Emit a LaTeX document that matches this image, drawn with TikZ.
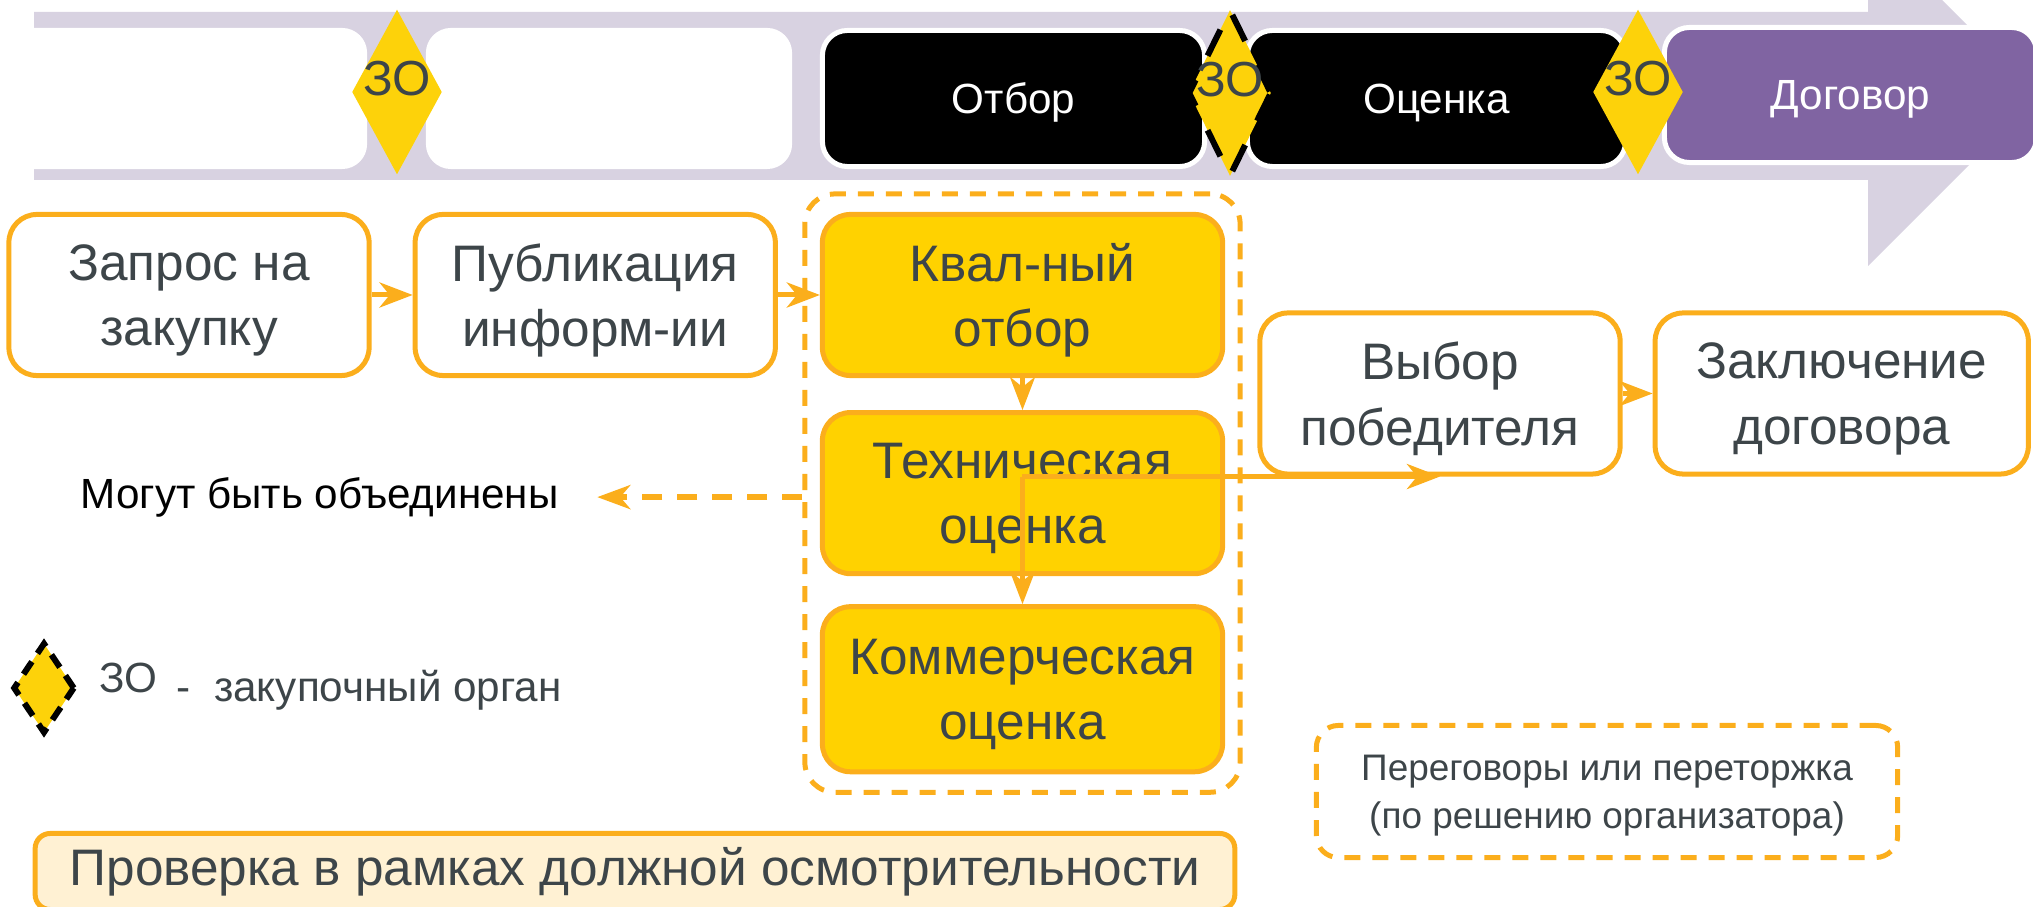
\documentclass[tikz,border=0pt]{standalone}
\usepackage{fontspec}
\setmainfont{Liberation Sans}
\usepackage{xcolor}
\usetikzlibrary{shapes.geometric, arrows.meta, positioning, calc, fit}

\definecolor{bandgray}{HTML}{D8D2E1}
\definecolor{lineorange}{HTML}{FBAE1C}
\definecolor{stepyellow}{HTML}{FFD200}
\definecolor{zoyellow}{HTML}{FDD20A}
\definecolor{textgray}{HTML}{3D4549}
\definecolor{dogpurple}{HTML}{8064A2}
\definecolor{checkcream}{HTML}{FFF1D3}

\tikzset{
  boxfont/.style={font=\fontsize{14.6}{18.6}\selectfont},
  stepbox/.style={draw=lineorange, line width=0.05cm, rounded corners=0.28cm,
    fill=white, text=textgray, align=center, boxfont, inner sep=0pt, text depth=0pt,
    minimum width=3.6cm, minimum height=1.61cm},
  evalbox/.style={stepbox, fill=stepyellow, minimum width=4cm},
  bandstep/.style={rounded corners=0.25cm, inner sep=0pt, minimum height=1.36cm,
    text depth=0pt, font=\fontsize{12}{14}\selectfont},
  darkphase/.style={bandstep, fill=black, draw=white, line width=0.05cm, text=white},
  zoshape/.style={diamond, fill=zoyellow, inner sep=0pt,
    minimum width=0.9cm, minimum height=1.65cm},
  zo/.style={zoshape, label={[zotext]center:ЗО}},
  zotext/.style={text=textgray, inner sep=0pt, yshift=0.13cm, font=\fontsize{14}{16}\selectfont},
  zodash/.style={draw=black, line width=0.06cm, dash pattern=on 0.29cm off 0.27cm, dash phase=0.54cm},
  flow/.style={draw=lineorange, line width=0.05cm,
    -{Stealth[length=0.33cm, width=0.25cm, inset=0.1cm]}},
  dashbox/.style={draw=lineorange, line width=0.05cm, dash pattern=on 0.16cm off 0.12cm},
  note/.style={inner sep=0pt, font=\fontsize{12}{14}\selectfont}
}

\begin{document}
\begin{tikzpicture}[x=0.01cm, y=-0.01cm]
\useasboundingbox (0,0) rectangle (2033,907);
\clip (0,0) rectangle (2033,907);
% Process band arrow
\fill[bandgray] (34,12) -- (1868,12) -- (1868,-74) -- (2038,96) -- (1868,266)
  -- (1868,180) -- (34,180) -- cycle;
% Steps on the band
\node[bandstep, fill=white, minimum width=4.07cm, minimum height=1.41cm] (bandreq) at (163.5,98.5) {};
\node[bandstep, fill=white, minimum width=3.66cm, minimum height=1.41cm] (bandpub) at (609,98.5) {};
\node[darkphase, minimum width=3.82cm] (bandsel) at (1013.5,98.5) {Отбор};
\node[darkphase, minimum width=3.78cm] (bandeval) at (1436.5,98.5) {Оценка};
\node[darkphase, fill=dogpurple, minimum width=3.72cm, minimum height=1.35cm] (bandcontr) at (1850.5,95) {Договор};
% Decision points
\node[zo] (zo1) at (397,92) {};
\node[zo, zodash, minimum width=0.84cm, minimum height=1.68cm] (zo2) at (1230,93) {};
\node[zo] (zo3) at (1638,92) {};

% Procedure steps
\node[stepbox] (req) at (189,295) {Запрос на\\закупку};
\node[stepbox, right=0.41cm of req] (pub) {Публикация\\информ-ии};
\node[evalbox, right=0.42cm of pub] (qual) {Квал-ный\\отбор};
\node[evalbox, below=0.32cm of qual] (tech) {Техническая\\оценка};
\node[evalbox, below=0.28cm of tech, minimum height=1.65cm] (comm) {Коммерческая\\оценка};
\node[stepbox] (win) at (1440,393.5) {Выбор\\победителя};
\node[stepbox, right=0.3cm of win, minimum width=3.73cm] (contr) {Заключение\\договора};

% Groups and notes
\node[dashbox, rounded corners=0.3cm, inner xsep=0.15cm, inner ysep=0.18cm, fit=(qual)(comm)] (evalgrp) {};
\node[note, left=2.05cm of evalgrp, yshift=-0.04cm, inner xsep=0.38cm] (merge) {Могут быть объединены};
\node[dashbox, rounded corners=0.22cm, minimum width=5.81cm, minimum height=1.32cm, text=textgray,
  align=center, text depth=0pt, font=\fontsize{10.5}{13.7}\selectfont] (talks) at (1607,791.5)
  {Переговоры или переторжка\\(по решению организатора)};
\node[draw=lineorange, line width=0.05cm, fill=checkcream, rounded corners=0.15cm, minimum width=11.99cm,
  minimum height=0.76cm, inner sep=0pt, text=textgray, boxfont] (check) at (635,871.5)
  {Проверка в рамках должной осмотрительности};

% Legend
\node[zoshape, zodash, minimum width=0.62cm, minimum height=0.91cm, dash pattern=on 0.15cm off 0.1cm,
  dash phase=0pt] (legzo) at (44,688) {};
\node[note, text=textgray, anchor=base west] (legabbr) at (99,693) {ЗО};
\node[note, text=textgray, anchor=base west] (legtext) at (176,702) {-~ закупочный орган};

% Connectors
\draw[flow] (req) -- (pub);
\draw[flow] (pub) -- (qual);
\draw[flow] (qual) -- (tech);
\coordinate (split) at (qual.south |- win.south);
\draw[flow] (split) -- (comm.north);
\draw[flow] (split) -- (win.south);
\draw[flow] (win) -- (contr);
\draw[dashbox, line width=0.06cm, dash pattern=on 0.2cm off 0.15cm,
  -{Stealth[length=0.33cm, width=0.24cm, inset=0.1cm]}] (evalgrp.west |- merge.east) -- (merge.east);
\end{tikzpicture}
\end{document}
